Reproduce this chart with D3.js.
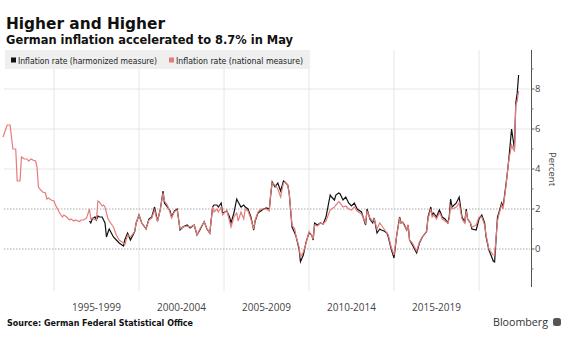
<!DOCTYPE html>
<html>
<head>
<meta charset="utf-8">
<script src="https://cdn.jsdelivr.net/npm/d3@7"></script>
<style>
body { margin:0; background:#fff; }
svg { display:block; }
.title { font-family:"DejaVu Sans"; font-weight:bold; fill:#111; }
.legend { font-family:"DejaVu Sans"; font-size:8.5px; fill:#222; }
.tick { font-family:"Open Sans"; font-size:9.5px; fill:#444; }
.period { font-family:"Open Sans"; font-size:10px; fill:#444; text-anchor:middle; }
.source { font-family:"DejaVu Sans"; font-weight:bold; font-size:8.5px; fill:#111; }
.national { fill:none; stroke:#e57c7a; stroke-width:1.2; }
.harmonized { fill:none; stroke:#111; stroke-width:1.2; }
</style>
</head>
<body>
<svg width="573" height="347"></svg>
<script>
// chart data
const months = ["1992-01","1992-04","1992-06","1992-08","1992-10","1992-11","1993-01","1993-02","1993-04","1993-06",
"1993-07","1993-09","1993-10","1993-12","1994-01","1994-02","1994-03","1994-05","1994-07","1994-08",
"1994-09","1994-11","1995-01","1995-02","1995-04","1995-05","1995-07","1995-08","1995-10","1995-12",
"1996-01","1996-03","1996-04","1996-07","1996-08","1996-10","1996-12","1997-02","1997-03","1997-04",
"1997-06","1997-07","1997-08","1997-09","1997-11","1997-12","1998-01","1998-02","1998-03","1998-04",
"1998-07","1998-09","1998-11","1999-02","1999-03","1999-05","1999-07","1999-10","1999-11","2000-01",
"2000-03","2000-06","2000-08","2000-10","2000-12","2001-02","2001-04","2001-06","2001-07","2001-09",
"2001-11","2001-12","2002-02","2002-04","2002-06","2002-08","2002-11","2003-01","2003-04","2003-06",
"2003-08","2003-11","2004-01","2004-03","2004-05","2004-06","2004-08","2004-09","2004-11","2004-12",
"2005-03","2005-05","2005-06","2005-08","2005-10","2005-11","2006-01","2006-03","2006-04","2006-06",
"2006-08","2006-10","2006-11","2007-01","2007-03","2007-05","2007-07","2007-09","2007-10","2007-11",
"2008-01","2008-03","2008-05","2008-07","2008-08","2008-10","2008-11","2009-01","2009-03","2009-04",
"2009-06","2009-07","2009-09","2009-11","2010-01","2010-03","2010-04","2010-05","2010-07","2010-09",
"2010-11","2011-01","2011-04","2011-05","2011-07","2011-08","2011-10","2011-11","2012-01","2012-03",
"2012-05","2012-07","2012-09","2012-11","2013-01","2013-02","2013-05","2013-06","2013-08","2013-10",
"2013-11","2014-01","2014-03","2014-04","2014-06","2014-08","2014-09","2014-11","2015-01","2015-03",
"2015-05","2015-06","2015-07","2015-08","2015-10","2015-11","2015-12","2016-02","2016-05","2016-07",
"2016-09","2016-12","2017-01","2017-03","2017-04","2017-05","2017-07","2017-09","2017-10","2017-11",
"2018-01","2018-03","2018-04","2018-05","2018-06","2018-09","2018-11","2018-12","2019-01","2019-03",
"2019-04","2019-05","2019-07","2019-08","2019-11","2020-01","2020-03","2020-05","2020-06","2020-08",
"2020-10","2020-11","2020-12","2021-02","2021-03","2021-05","2021-06","2021-08","2021-09","2021-10",
"2021-12","2022-01","2022-02","2022-03","2022-04","2022-05"]

// national measure (CPI), percent
const national = [5.6,6.2,6.2,5.0,5.0,3.4,3.4,4.6,4.5,4.5,
4.4,4.5,4.45,4.4,4.1,3.1,3.0,2.85,2.8,2.5,
2.55,2.45,2.4,2.2,1.95,1.8,1.6,1.7,1.6,1.45,
1.5,1.4,1.45,1.37,1.45,1.45,1.55,2.0,1.5,1.55,
1.45,1.45,2.4,2.35,2.15,2.2,2.1,1.8,1.55,1.4,
1.1,0.7,0.45,0.3,0.2,0.7,0.6,0.87,1.3,1.7,
1.3,1.0,1.45,1.55,1.95,1.37,1.95,2.8,2.4,2.2,
1.8,1.55,1.87,1.95,1.0,1.1,1.15,1.1,1.2,0.7,
1.0,1.37,1.0,0.8,2.1,1.85,2.0,1.85,2.1,1.7,
1.95,1.37,1.1,1.6,1.8,1.4,1.85,1.5,2.0,1.9,
1.5,1.0,1.45,1.85,2.0,2.0,2.0,1.9,2.8,3.3,
3.2,3.0,2.6,3.3,3.35,3.2,2.8,1.2,1.0,0.6,
0.1,-0.4,-0.15,0.3,0.87,0.7,0.5,1.2,1.15,1.3,
1.25,1.4,1.95,2.0,2.1,2.2,2.37,2.3,2.1,2.15,
2.0,1.95,2.1,1.9,1.8,1.75,1.3,1.9,1.55,1.4,
1.5,1.0,1.3,1.2,1.0,0.8,0.7,0.1,-0.3,0.7,
1.5,1.3,1.35,1.2,0.95,1.2,0.45,0.3,-0.1,0.35,
0.6,0.9,1.5,2.0,1.6,1.7,1.5,1.8,1.7,1.5,
1.4,1.3,1.5,2.2,2.0,2.1,2.3,1.9,1.5,1.3,
1.9,1.5,1.3,1.1,1.2,1.6,1.6,1.2,0.7,0.0,
-0.2,-0.3,-0.3,1.4,1.7,2.2,2.0,3.1,3.8,4.4,
5.2,5.0,4.9,7.2,7.4,7.9]

// harmonized measure (HICP), percent, starts 1997
const harmonized = [null,null,null,null,null,null,null,null,null,null,
null,null,null,null,null,null,null,null,null,null,
null,null,null,null,null,null,null,null,null,null,
null,null,null,null,null,null,null,1.4,1.3,1.5,
1.6,1.45,1.65,1.6,1.6,1.45,1.3,0.6,0.8,1.0,
0.6,0.45,0.3,0.15,0.45,0.8,0.45,0.87,1.3,1.7,
1.3,1.0,1.5,1.6,2.1,1.4,1.95,2.9,2.3,2.1,
1.9,1.6,1.9,2.0,0.95,1.1,1.2,1.05,1.2,0.7,
0.95,1.37,1.0,0.8,2.1,2.2,2.2,2.1,2.3,1.8,
1.9,1.6,1.3,1.8,2.5,2.35,2.1,2.2,2.1,2.0,
1.6,0.95,1.4,1.8,1.9,2.0,2.05,2.0,2.7,3.35,
3.1,3.3,2.9,3.4,3.35,3.2,2.8,1.1,0.8,0.6,
0.0,-0.63,-0.3,0.37,0.8,0.7,0.45,1.3,1.2,1.3,
1.25,1.6,2.7,2.6,2.45,2.7,2.8,2.75,2.45,2.6,
2.3,2.15,2.3,2.0,1.9,1.85,1.2,2.0,1.5,1.3,
1.55,0.8,1.0,0.95,0.9,0.8,0.6,0.0,-0.45,0.7,
1.6,1.3,1.35,1.25,0.95,1.2,0.45,0.2,-0.2,0.3,
0.6,0.87,1.6,2.1,1.7,1.8,1.6,1.95,1.8,1.6,
1.5,1.3,1.6,2.5,2.1,2.3,2.6,2.1,1.6,1.35,
2.0,1.5,1.3,1.0,0.95,1.5,1.7,1.3,0.6,-0.05,
-0.4,-0.6,-0.65,1.6,1.8,2.3,2.1,3.2,3.8,4.45,
6.0,5.5,5.0,7.3,7.8,8.7]

const yTicks = [0,2,4,6,8]
const yMinor = [-1,1,3,5,7,9]
const periodStarts = [1995,2000,2005,2010,2015,2020]
const periodLabels = ["1995-1999","2000-2004","2005-2009","2010-2014","2015-2019"]

const parseMonth = d3.timeParse("%Y-%m")

const svg = d3.select("svg")

//scales
const x = d3.scaleTime()
	.domain([new Date(1995,0,1), new Date(2020,0,1)])
	.range([54, 479])

const y = d3.scaleLinear()
	.domain([0, 8])
	.range([249, 89])

//grid lines
svg.selectAll("line.vgrid")
	.data(periodStarts)
	.enter()
	.append("line")
	.attr("x1", d => x(new Date(d,0,1)))
	.attr("x2", d => x(new Date(d,0,1)))
	.attr("y1", 50)
	.attr("y2", 291)
	.attr("stroke", "#e6e6e6")
	.attr("stroke-width", 1)

svg.selectAll("line.hgrid")
	.data(yTicks)
	.enter()
	.append("line")
	.attr("x1", 4)
	.attr("x2", 530)
	.attr("y1", d => y(d))
	.attr("y2", d => y(d))
	.attr("stroke", d => d <= 2 ? "#aaa" : "#e6e6e6")
	.attr("stroke-dasharray", d => d <= 2 ? "1.5,1.5" : null)

//title and legend
svg.append("text")
	.attr("class", "title")
	.attr("x", 6).attr("y", 29)
	.attr("font-size", 16)
	.attr("textLength", 159)
	.attr("lengthAdjust", "spacingAndGlyphs")
	.text("Higher and Higher")

svg.append("text")
	.attr("class", "title")
	.attr("x", 6).attr("y", 44)
	.attr("font-size", 12.5)
	.attr("textLength", 287)
	.attr("lengthAdjust", "spacingAndGlyphs")
	.text("German inflation accelerated to 8.7% in May")

svg.append("rect")
	.attr("x", 5).attr("y", 50)
	.attr("width", 305).attr("height", 19)
	.attr("fill", "#efefef")

const legendItems = [
	{label:"Inflation rate (harmonized measure)", color:"#111", x:11, w:139},
	{label:"Inflation rate (national measure)", color:"#e57c7a", x:169, w:127}
]
const legend = svg.selectAll("g.leg")
	.data(legendItems)
	.enter()
	.append("g")
	.attr("transform", d => `translate(${d.x},0)`)
legend.append("rect")
	.attr("x", 0).attr("y", 57.5)
	.attr("width", 5).attr("height", 5)
	.attr("fill", d => d.color)
legend.append("text")
	.attr("class", "legend")
	.attr("x", 7).attr("y", 63.5)
	.attr("textLength", d => d.w)
	.attr("lengthAdjust", "spacingAndGlyphs")
	.text(d => d.label)

//lines
const dates = months.map(parseMonth)

const natLine = d3.line()
	.x((d,i) => x(dates[i]))
	.y(d => y(d))

const hicpLine = d3.line()
	.defined(d => d != null)
	.x((d,i) => x(dates[i]))
	.y(d => y(d))

svg.append("path")
	.datum(harmonized)
	.attr("class", "harmonized")
	.attr("d", hicpLine)

svg.append("path")
	.datum(national)
	.attr("class", "national")
	.attr("d", natLine)

//right axis
const axis = svg.append("g")
	.attr("transform", "translate(531.5,0)")

axis.append("line")
	.attr("x1", 0).attr("x2", 0)
	.attr("y1", 50).attr("y2", 287)
	.attr("stroke", "#555")

axis.selectAll("line.major")
	.data(yTicks)
	.enter()
	.append("line")
	.attr("x1", 0).attr("x2", 3)
	.attr("y1", d => y(d)).attr("y2", d => y(d))
	.attr("stroke", "#555")

axis.selectAll("line.minor")
	.data(yMinor)
	.enter()
	.append("line")
	.attr("x1", 0).attr("x2", 2)
	.attr("y1", d => y(d)).attr("y2", d => y(d))
	.attr("stroke", "#777")

axis.selectAll("text")
	.data(yTicks)
	.enter()
	.append("text")
	.attr("class", "tick")
	.attr("x", 3.5)
	.attr("y", d => y(d) + 3.4)
	.text(d => d)

svg.append("text")
	.attr("class", "tick")
	.attr("font-size", "11.5px")
	.attr("fill", "#333")
	.attr("text-anchor", "middle")
	.attr("transform", "translate(549,169) rotate(90)")
	.text("Percent")

//period labels
svg.selectAll("text.period")
	.data(periodLabels)
	.enter()
	.append("text")
	.attr("class", "period")
	.attr("x", (d,i) => (x(new Date(periodStarts[i],0,1)) + x(new Date(periodStarts[i+1],0,1))) / 2)
	.attr("y", 311)
	.text(d => d)

//footer
svg.append("text")
	.attr("class", "source")
	.attr("x", 7).attr("y", 326)
	.attr("textLength", 186)
	.attr("lengthAdjust", "spacingAndGlyphs")
	.text("Source: German Federal Statistical Office")

svg.append("text")
	.attr("x", 493).attr("y", 326)
	.attr("font-family", "Open Sans")
	.attr("font-size", "11px")
	.attr("fill", "#333")
	.attr("textLength", 55)
	.attr("lengthAdjust", "spacingAndGlyphs")
	.text("Bloomberg")

svg.append("rect")
	.attr("x", 553).attr("y", 318)
	.attr("width", 8).attr("height", 8)
	.attr("rx", 2.5)
	.attr("fill", "#555")
</script>
</body>
</html>
